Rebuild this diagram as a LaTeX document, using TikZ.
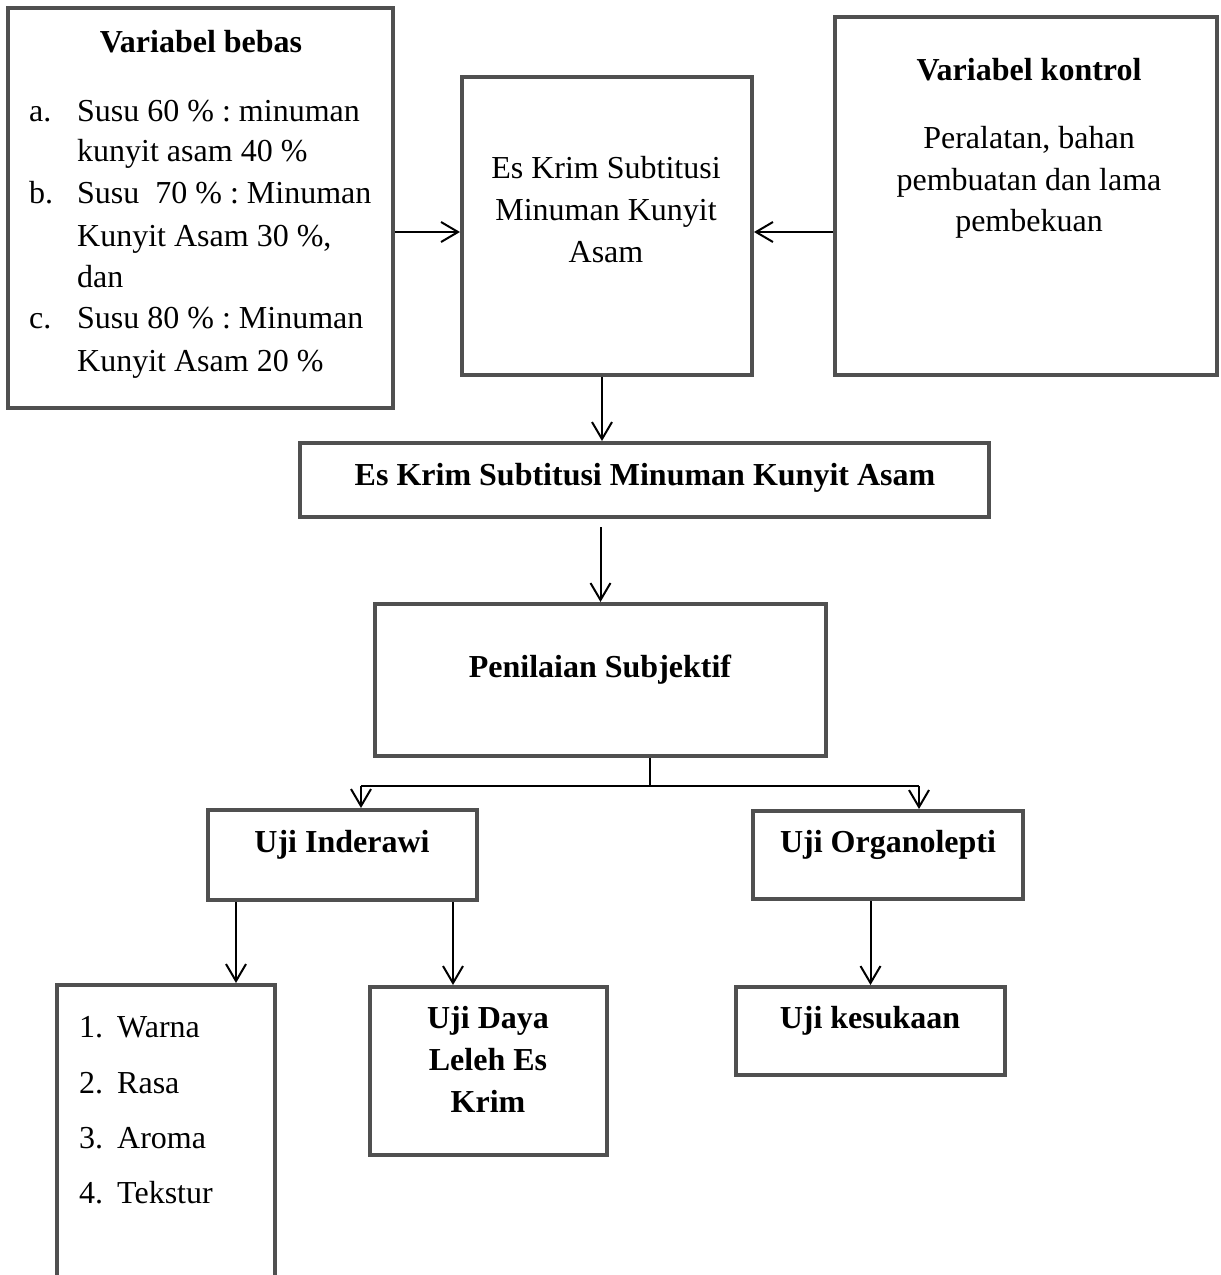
\documentclass[tikz,border=0pt]{standalone}
\usepackage{fontspec}
\setmainfont{Liberation Serif}
\usetikzlibrary{arrows.meta}
\definecolor{abubox}{HTML}{505050}
\frenchspacing
\tikzset{
  kotak/.style={draw=abubox, line width=4pt, inner sep=0pt},
  garis/.style={draw=black, line width=2pt},
  panah/.style={garis, -{Straight Barb[length=17pt,width=20pt]}},
  teks/.style={anchor=base, inner sep=0pt, font=\fontsize{32}{42}\selectfont},
  kiri/.style={teks, anchor=base west},
  judul/.style={teks, font=\fontsize{32}{42}\selectfont\bfseries},
}

\begin{document}
\begin{tikzpicture}[x=1pt,y=-1pt]
            \useasboundingbox (0,0) rectangle (1221,1275);
            %
            \node[kotak, minimum width=385pt, minimum height=400pt] (bebas) at (200.5,208) {};
            \node[kotak, minimum width=290pt, minimum height=298pt] (eskrim) at (607,226) {};
            \node[kotak, minimum width=382pt, minimum height=358pt] (kontrol) at (1026,196) {};
            \node[kotak, minimum width=689pt, minimum height=74pt] (hasil) at (644.5,480) {};
            \node[kotak, minimum width=451pt, minimum height=152pt] (nilai) at (600.5,680) {};
            \node[kotak, minimum width=269pt, minimum height=90pt] (inderawi) at (342.5,855) {};
            \node[kotak, minimum width=270pt, minimum height=88pt] (organo) at (888,855) {};
            \node[kotak, minimum width=218pt, minimum height=320pt] (atribut) at (166,1145) {};
            \node[kotak, minimum width=237pt, minimum height=168pt] (daya) at (488.5,1071) {};
            \node[kotak, minimum width=269pt, minimum height=88pt] (suka) at (870.5,1031) {};
            %
            \node[judul] (tbebas) at (201,52) {Variabel bebas};
            \node[kiri] (ha) at (29,121) {a.};
            \node[kiri] (ta1) at (77,121) {Susu 60 \% : minuman};
            \node[kiri] (ta2) at (77,161) {kunyit asam 40 \%};
            \node[kiri] (hb) at (29,203) {b.};
            \node[kiri] (tb1) at (77,203) {Susu~ 70 \% : Minuman};
            \node[kiri] (tb2) at (77,246) {Kunyit Asam 30 \%,};
            \node[kiri] (tb3) at (77,287) {dan};
            \node[kiri] (hc) at (29,328) {c.};
            \node[kiri] (tc1) at (77,328) {Susu 80 \% : Minuman};
            \node[kiri] (tc2) at (77,371) {Kunyit Asam 20 \%};
            %
            \node[teks] (tes1) at (606,178) {Es Krim Subtitusi};
            \node[teks] (tes2) at (606,220) {Minuman Kunyit};
            \node[teks] (tes3) at (606,262) {Asam};
            %
            \node[judul] (tkontrol) at (1029,80) {Variabel kontrol};
            \node[teks] (tk1) at (1029,148) {Peralatan, bahan};
            \node[teks] (tk2) at (1029,190) {pembuatan dan lama};
            \node[teks] (tk3) at (1029,231) {pembekuan};
            %
            \node[judul] (thasil) at (645,485) {Es Krim Subtitusi Minuman Kunyit Asam};
            \node[judul] (tnilai) at (600,677) {Penilaian Subjektif};
            \node[judul] (tinderawi) at (342,852) {Uji Inderawi};
            \node[judul] (torgano) at (888,852) {Uji Organolepti};
            %
            \node[kiri] (n1) at (79,1037) {1.};
            \node[kiri] (w1) at (117,1037) {Warna};
            \node[kiri] (n2) at (79,1093) {2.};
            \node[kiri] (w2) at (117,1093) {Rasa};
            \node[kiri] (n3) at (79,1148) {3.};
            \node[kiri] (w3) at (117,1148) {Aroma};
            \node[kiri] (n4) at (79,1203) {4.};
            \node[kiri] (w4) at (117,1203) {Tekstur};
            %
            \node[judul] (tdaya1) at (488,1028) {Uji Daya};
            \node[judul] (tdaya2) at (488,1070) {Leleh Es};
            \node[judul] (tdaya3) at (488,1112) {Krim};
            \node[judul] (tsuka) at (870,1028) {Uji kesukaan};
            %
            \coordinate (pk) at (0,232);
            \coordinate (xa) at (602,0);
            \coordinate (cabang) at (650,786);
            \coordinate (ckiri) at (361,786);
            \coordinate (ckanan) at (919,786);
            \coordinate (xb) at (236,0);
            \coordinate (xc) at (453,0);
            %
            \draw[panah] (bebas.east |- pk) -- (eskrim.west |- pk);
            \draw[panah] (kontrol.west |- pk) -- (eskrim.east |- pk);
            \draw[panah] (eskrim.south -| xa) -- (hasil.north -| xa);
            \draw[panah, shorten <=8pt] (hasil.south -| nilai.north) -- (nilai.north);
            \draw[garis] (nilai.south -| cabang) -- (cabang);
            \draw[garis] (ckiri) -- (ckanan);
            \draw[panah] (ckiri) -- (ckiri |- inderawi.north);
            \draw[panah] (ckanan) -- (ckanan |- organo.north);
            \draw[panah] (inderawi.south -| xb) -- (atribut.north -| xb);
            \draw[panah] (inderawi.south -| xc) -- (daya.north -| xc);
            \draw[panah] (organo.south -| suka.north) -- (suka.north);
\end{tikzpicture}
\end{document}
